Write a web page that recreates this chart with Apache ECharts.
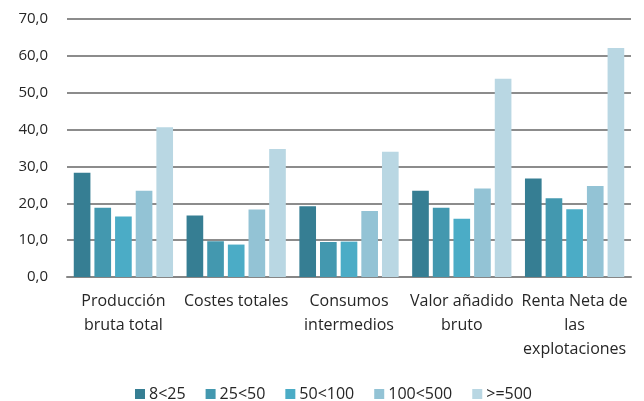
<!DOCTYPE html>
<html>
<head>
<meta charset="utf-8">
<script src="https://cdn.jsdelivr.net/npm/echarts@6/dist/echarts.min.js"></script>
<style>
  html, body { margin: 0; padding: 0; background: #fff; }
  #chart { width: 644px; height: 401px; }
</style>
</head>
<body>
<div id="chart"></div>
<script>
// categorías del eje x
const categories = ['Producción\nbruta total', 'Costes totales', 'Consumos\nintermedios', 'Valor añadido\nbruto', 'Renta Neta de\nlas\nexplotaciones']
// tramos (leyenda)
const seriesNames = ['8<25', '25<50', '50<100', '100<500', '>=500']
const s8_25 = [28.3, 16.7, 19.2, 23.4, 26.7]
const s25_50 = [18.8, 9.7, 9.5, 18.8, 21.4]
const s50_100 = [16.4, 8.8, 9.6, 15.8, 18.4]
const s100_500 = [23.4, 18.3, 17.9, 24.0, 24.7]
const s500 = [40.6, 34.7, 34.0, 53.8, 62.1]
const seriesValues = [s8_25, s25_50, s50_100, s100_500, s500]
const colors = ['#367E93', '#4398AF', '#4BACC6', '#93C3D5', '#B9D7E3']

const font = '"Open Sans", sans-serif'

const myChart = echarts.init(document.getElementById('chart'))

const option = {
  animation: false,
  color: colors,
  textStyle: { fontFamily: font },
  grid: { left: 67, right: 13, top: 19, bottom: 124, containLabel: false },
  legend: {
    top: 381,
    left: 130,
    itemWidth: 10,
    itemHeight: 10,
    itemGap: 20,
    icon: 'rect',
    textStyle: { fontSize: 16, color: '#262626', fontFamily: font, padding: [0, 0, 0, -1] },
    data: seriesNames
  },
  xAxis: {
    type: 'category',
    data: categories,
    axisTick: { show: false },
    axisLine: { lineStyle: { color: '#868686', width: 2 } },
    axisLabel: { fontSize: 16, color: '#262626', lineHeight: 24, margin: 12, interval: 0 }
  },
  yAxis: {
    type: 'value',
    min: 0,
    max: 70,
    interval: 10,
    axisLine: { show: false },
    axisTick: { show: false },
    splitLine: { lineStyle: { color: '#8c8c8c', width: 2 } },
    axisLabel: {
      fontSize: 15,
      color: '#262626',
      margin: 19,
      formatter: (v) => v.toFixed(1).replace('.', ',')
    }
  },
  series: seriesNames.map((name, i) => ({
    name: name,
    type: 'bar',
    data: seriesValues[i],
    barGap: '24%',
    barCategoryGap: '12%'
  }))
}

myChart.setOption(option)
</script>
</body>
</html>
